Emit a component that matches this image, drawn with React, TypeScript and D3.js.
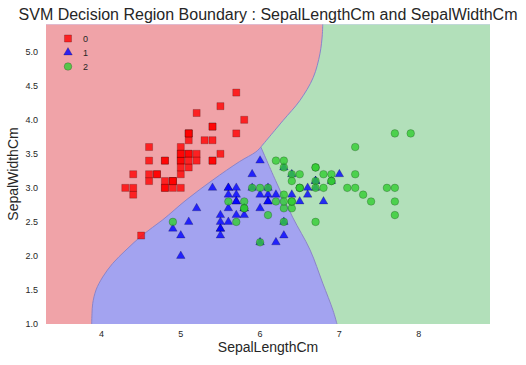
import React, { useEffect, useRef } from "react";
import * as d3 from "d3";

// SepalLengthCm, SepalWidthCm per class
const class0: [number, number][] = [
  [5.1, 3.5], [4.9, 3.0], [4.7, 3.2], [4.6, 3.1], [5.0, 3.6], [5.4, 3.9], [4.6, 3.4], [5.0, 3.4],
  [4.4, 2.9], [4.9, 3.1], [5.4, 3.7], [4.8, 3.4], [4.8, 3.0], [4.3, 3.0], [5.8, 4.0], [5.7, 4.4],
  [5.4, 3.9], [5.1, 3.5], [5.7, 3.8], [5.1, 3.8], [5.4, 3.4], [5.1, 3.7], [4.6, 3.6], [5.1, 3.3],
  [4.8, 3.4], [5.0, 3.0], [5.0, 3.4], [5.2, 3.5], [5.2, 3.4], [4.7, 3.2], [4.8, 3.1], [5.4, 3.4],
  [5.2, 4.1], [5.5, 4.2], [4.9, 3.1], [5.0, 3.2], [5.5, 3.5], [4.9, 3.1], [4.4, 3.0], [5.1, 3.4],
  [5.0, 3.5], [4.5, 2.3], [4.4, 3.2], [5.0, 3.5], [5.1, 3.8], [4.8, 3.0], [5.1, 3.8], [4.6, 3.2],
  [5.3, 3.7], [5.0, 3.3],
];
const class1: [number, number][] = [
  [7.0, 3.2], [6.4, 3.2], [6.9, 3.1], [5.5, 2.3], [6.5, 2.8], [5.7, 2.8], [6.3, 3.3], [4.9, 2.4],
  [6.6, 2.9], [5.2, 2.7], [5.0, 2.0], [5.9, 3.0], [6.0, 2.2], [6.1, 2.9], [5.6, 2.9], [6.7, 3.1],
  [5.6, 3.0], [5.8, 2.7], [6.2, 2.2], [5.6, 2.5], [5.9, 3.2], [6.1, 2.8], [6.3, 2.5], [6.1, 2.8],
  [6.4, 2.9], [6.6, 3.0], [6.8, 2.8], [6.7, 3.0], [6.0, 2.9], [5.7, 2.6], [5.5, 2.4], [5.5, 2.4],
  [5.8, 2.7], [6.0, 2.7], [5.4, 3.0], [6.0, 3.4], [6.7, 3.1], [6.3, 2.3], [5.6, 3.0], [5.5, 2.5],
  [5.5, 2.6], [6.1, 3.0], [5.8, 2.6], [5.0, 2.3], [5.6, 2.7], [5.7, 3.0], [5.7, 2.9], [6.2, 2.9],
  [5.1, 2.5], [5.7, 2.8],
];
const class2: [number, number][] = [
  [6.3, 3.3], [5.8, 2.7], [7.1, 3.0], [6.3, 2.9], [6.5, 3.0], [7.6, 3.0], [4.9, 2.5], [7.3, 2.9],
  [6.7, 2.5], [7.2, 3.6], [6.5, 3.2], [6.4, 2.7], [6.8, 3.0], [5.7, 2.5], [5.8, 2.8], [6.4, 3.2],
  [6.5, 3.0], [7.7, 3.8], [7.7, 2.6], [6.0, 2.2], [6.9, 3.2], [5.6, 2.8], [7.7, 2.8], [6.3, 2.7],
  [6.7, 3.3], [7.2, 3.2], [6.2, 2.8], [6.1, 3.0], [6.4, 2.8], [7.2, 3.0], [7.4, 2.8], [7.9, 3.8],
  [6.4, 2.8], [6.3, 2.8], [6.1, 2.6], [7.7, 3.0], [6.3, 3.4], [6.4, 3.1], [6.0, 3.0], [6.9, 3.1],
  [6.7, 3.1], [6.9, 3.1], [5.8, 2.7], [6.8, 3.2], [6.7, 3.3], [6.7, 3.0], [6.3, 2.5], [6.5, 3.0],
  [6.2, 3.4], [5.9, 3.0],
];

// decision boundaries (data units)
const redBlueEdge: [number, number][] = [
  [3.876, 1.0], [3.88, 1.15], [3.889, 1.3], [3.931, 1.5], [4.015, 1.69], [4.141, 1.89],
  [4.309, 2.087], [4.52, 2.31], [4.772, 2.53], [5.066, 2.82], [5.403, 3.115], [5.738, 3.384],
  [5.949, 3.53], [6.01, 3.6],
];
const redGreenEdge: [number, number][] = [
  [6.01, 3.6], [6.29, 3.99], [6.5, 4.28], [6.67, 4.62], [6.755, 4.97], [6.785, 5.25], [6.79, 5.4],
];
const blueGreenEdge: [number, number][] = [
  [6.01, 3.6], [6.21, 3.07], [6.41, 2.57], [6.63, 2.09], [6.79, 1.6], [6.92, 1.2], [6.97, 1.0],
];

const xTicks = [4, 5, 6, 7, 8];
const yTicks = [1.0, 1.5, 2.0, 2.5, 3.0, 3.5, 4.0, 4.5, 5.0];
const labels = ["0", "1", "2"];

const App: React.FC = () => {
  const svgRef = useRef(null);

  useEffect(() => {
    const width = 526;
    const height = 365;
    const font = "'Liberation Sans', Arial, sans-serif";

    const x = d3.scaleLinear().domain([3.3, 8.9]).range([46, 490]);
    const y = d3.scaleLinear().domain([1.0, 5.4]).range([324, 24.5]);

    d3.select(svgRef.current).selectAll("*").remove();
    const svg = d3
      .select(svgRef.current)
      .attr("width", width)
      .attr("height", height)
      .style("font-family", font);

    svg.append("rect").attr("width", width).attr("height", height).attr("fill", "#fff");

    const line = d3
      .line<[number, number]>()
      .x((d) => x(d[0]))
      .y((d) => y(d[1]));
    const curve = d3
      .line<[number, number]>()
      .x((d) => x(d[0]))
      .y((d) => y(d[1]))
      .curve(d3.curveCatmullRom);

    // join pieces into one path, later pieces continue with L instead of M
    const join = (...parts: string[]) =>
      parts.map((p, i) => (i === 0 ? p : "L" + p.slice(1))).join("") + "Z";
    const rev = (a: [number, number][]) => a.slice().reverse();

    const [x0, x1] = x.domain();
    const [y0, y1] = y.domain();

    // blue fills the whole area, red and green drawn on top
    svg
      .append("rect")
      .attr("x", x(x0))
      .attr("y", y(y1))
      .attr("width", x(x1) - x(x0))
      .attr("height", y(y0) - y(y1))
      .attr("fill", "#a3a3f0");

    const redPath = join(
      line([[x0, y1]])!,
      curve(rev(redGreenEdge))!,
      curve(rev(redBlueEdge))!,
      line([[x0, y0]])!
    );
    const greenPath = join(
      curve(redGreenEdge)!,
      line([[x1, y1], [x1, y0]])!,
      curve(rev(blueGreenEdge))!
    );
    svg.append("path").attr("d", redPath).attr("fill", "#f0a3a8");
    svg.append("path").attr("d", greenPath).attr("fill", "#b2e0ba");

    [redBlueEdge, redGreenEdge, blueGreenEdge].forEach((edge) => {
      svg
        .append("path")
        .attr("d", curve(edge))
        .attr("fill", "none")
        .attr("stroke", "#8c84c8")
        .attr("stroke-width", 1);
    });

    // markers
    const sq = d3.symbol().type(d3.symbolSquare).size(50);
    const tri = d3.symbol().type(d3.symbolTriangle).size(32);
    const circ = d3.symbol().type(d3.symbolCircle).size(46);
    const series = [
      { data: class0, shape: sq, color: "#ff0000" },
      { data: class1, shape: tri, color: "#0000ff" },
      { data: class2, shape: circ, color: "#32cd32" },
    ];

    series.forEach((s) => {
      svg
        .append("g")
        .selectAll("path")
        .data(s.data)
        .enter()
        .append("path")
        .attr("d", s.shape as any)
        .attr("transform", (d) => `translate(${x(d[0])},${y(d[1])})`)
        .attr("fill", s.color)
        .attr("fill-opacity", 0.8)
        .attr("stroke", "#000")
        .attr("stroke-opacity", 0.35)
        .attr("stroke-width", 0.6);
    });

    // legend
    const legend = svg.append("g");
    series.forEach((s, i) => {
      const ly = 38.5 + i * 14;
      legend
        .append("path")
        .attr("d", s.shape as any)
        .attr("transform", `translate(68,${ly})`)
        .attr("fill", s.color)
        .attr("fill-opacity", 0.8)
        .attr("stroke", "#000")
        .attr("stroke-opacity", 0.35)
        .attr("stroke-width", 0.6);
      legend
        .append("text")
        .attr("x", 83)
        .attr("y", ly)
        .attr("dy", "0.35em")
        .attr("font-size", "9px")
        .attr("fill", "#262626")
        .text(labels[i]);
    });

    // axes tick labels
    svg
      .append("g")
      .selectAll("text")
      .data(xTicks)
      .enter()
      .append("text")
      .attr("x", (d) => x(d))
      .attr("y", 337)
      .attr("text-anchor", "middle")
      .attr("font-size", "9px")
      .attr("fill", "#262626")
      .text((d) => d);

    svg
      .append("g")
      .selectAll("text")
      .data(yTicks)
      .enter()
      .append("text")
      .attr("x", 38)
      .attr("y", (d) => y(d))
      .attr("dy", "0.35em")
      .attr("text-anchor", "end")
      .attr("font-size", "9px")
      .attr("fill", "#262626")
      .text((d) => d.toFixed(1));

    svg
      .append("text")
      .attr("x", 268)
      .attr("y", 352)
      .attr("text-anchor", "middle")
      .attr("font-size", "14px")
      .attr("fill", "#262626")
      .text("SepalLengthCm");

    svg
      .append("text")
      .attr("transform", `translate(18,174) rotate(-90)`)
      .attr("text-anchor", "middle")
      .attr("font-size", "14px")
      .attr("fill", "#262626")
      .text("SepalWidthCm");

    svg
      .append("text")
      .attr("x", 268)
      .attr("y", 19.5)
      .attr("text-anchor", "middle")
      .attr("font-size", "16px")
      .attr("fill", "#262626")
      .text("SVM Decision Region Boundary : SepalLengthCm and SepalWidthCm");
  }, []);

  return (
    <svg
      ref={svgRef}
      style={{ position: "absolute", left: 0, top: 0, display: "block" }}
    ></svg>
  );
};

export default App;
